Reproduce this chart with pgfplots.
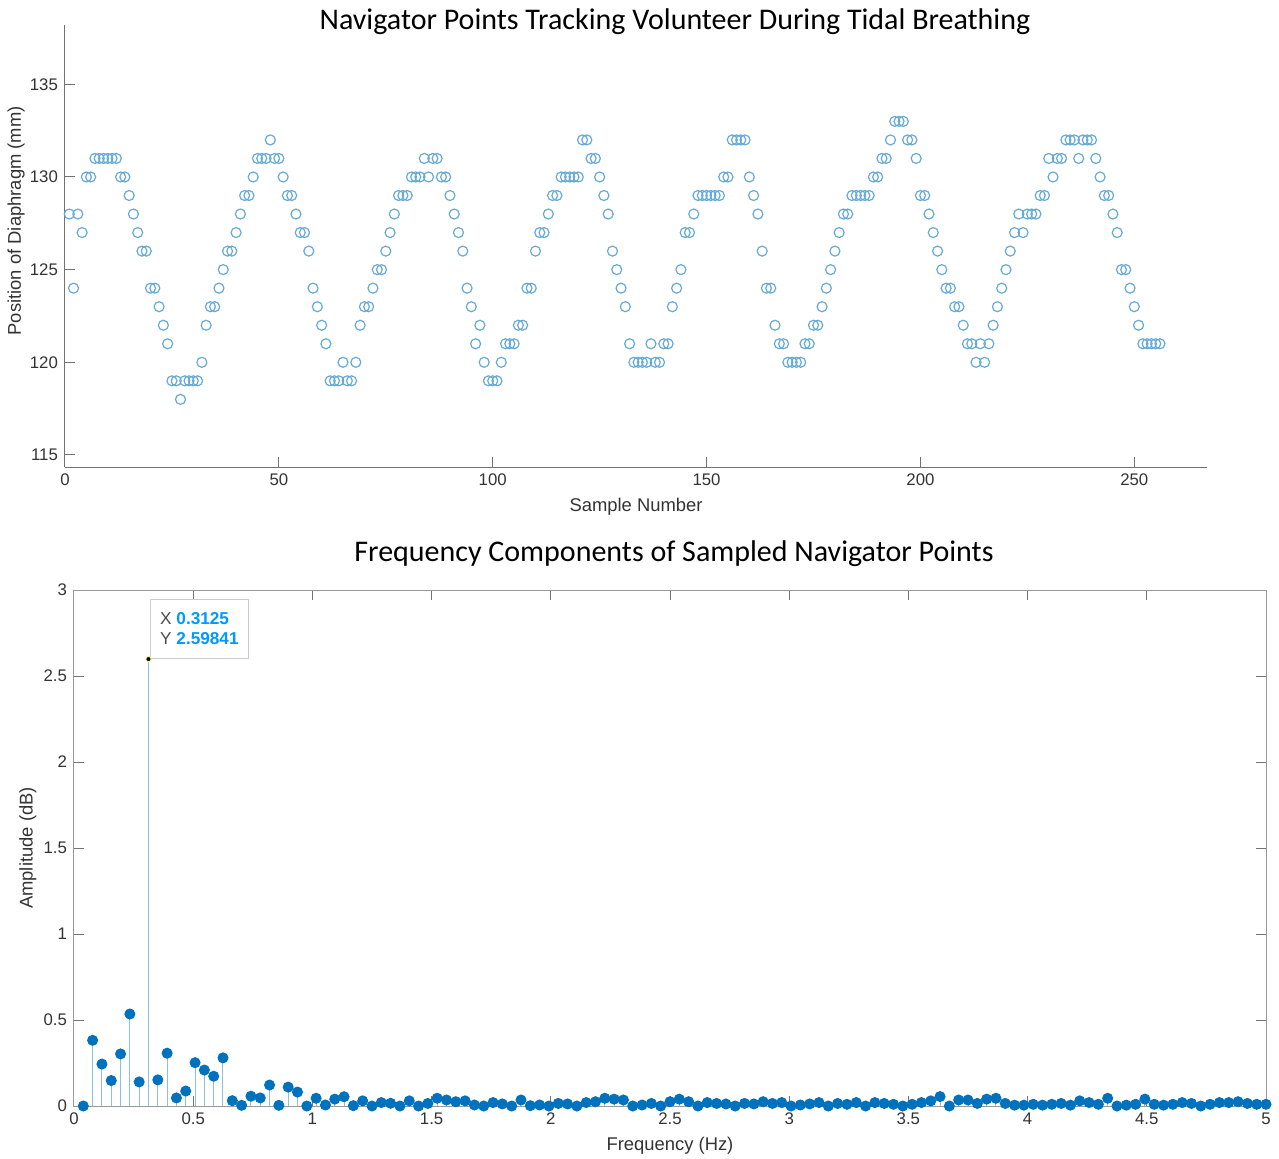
\documentclass[border=0pt]{standalone}
\usepackage{fontspec}
\setmainfont{Liberation Sans}
\newfontfamily\titlefont{Carlito}
\usepackage{pgfplots}
\usepackage{pgfplotstable}
\pgfplotsset{compat=1.18}
\definecolor{mblue}{RGB}{0,114,189}
\definecolor{tipblue}{RGB}{0,153,255}

\pgfplotstableread{
n y
1 128
2 124
3 128
4 127
5 130
6 130
7 131
8 131
9 131
10 131
11 131
12 131
13 130
14 130
15 129
16 128
17 127
18 126
19 126
20 124
21 124
22 123
23 122
24 121
25 119
26 119
27 118
28 119
29 119
30 119
31 119
32 120
33 122
34 123
35 123
36 124
37 125
38 126
39 126
40 127
41 128
42 129
43 129
44 130
45 131
46 131
47 131
48 132
49 131
50 131
51 130
52 129
53 129
54 128
55 127
56 127
57 126
58 124
59 123
60 122
61 121
62 119
63 119
64 119
65 120
66 119
67 119
68 120
69 122
70 123
71 123
72 124
73 125
74 125
75 126
76 127
77 128
78 129
79 129
80 129
81 130
82 130
83 130
84 131
85 130
86 131
87 131
88 130
89 130
90 129
91 128
92 127
93 126
94 124
95 123
96 121
97 122
98 120
99 119
100 119
101 119
102 120
103 121
104 121
105 121
106 122
107 122
108 124
109 124
110 126
111 127
112 127
113 128
114 129
115 129
116 130
117 130
118 130
119 130
120 130
121 132
122 132
123 131
124 131
125 130
126 129
127 128
128 126
129 125
130 124
131 123
132 121
133 120
134 120
135 120
136 120
137 121
138 120
139 120
140 121
141 121
142 123
143 124
144 125
145 127
146 127
147 128
148 129
149 129
150 129
151 129
152 129
153 129
154 130
155 130
156 132
157 132
158 132
159 132
160 130
161 129
162 128
163 126
164 124
165 124
166 122
167 121
168 121
169 120
170 120
171 120
172 120
173 121
174 121
175 122
176 122
177 123
178 124
179 125
180 126
181 127
182 128
183 128
184 129
185 129
186 129
187 129
188 129
189 130
190 130
191 131
192 131
193 132
194 133
195 133
196 133
197 132
198 132
199 131
200 129
201 129
202 128
203 127
204 126
205 125
206 124
207 124
208 123
209 123
210 122
211 121
212 121
213 120
214 121
215 120
216 121
217 122
218 123
219 124
220 125
221 126
222 127
223 128
224 127
225 128
226 128
227 128
228 129
229 129
230 131
231 130
232 131
233 131
234 132
235 132
236 132
237 131
238 132
239 132
240 132
241 131
242 130
243 129
244 129
245 128
246 127
247 125
248 125
249 124
250 123
251 122
252 121
253 121
254 121
255 121
256 121
}\navdata

\pgfplotstableread{
k a
1 0
2 0.382
3 0.244
4 0.148
5 0.303
6 0.535
7 0.140
9 0.152
10 0.307
11 0.047
12 0.087
13 0.252
14 0.209
15 0.173
16 0.280
17 0.031
18 0.004
19 0.057
20 0.047
21 0.122
22 0.004
23 0.110
24 0.081
25 0.0
26 0.045
27 0.006
28 0.040
29 0.054
30 0.002
31 0.030
32 0.0
33 0.020
34 0.016
35 0.0
36 0.030
37 0.0
38 0.015
39 0.045
40 0.035
41 0.025
42 0.030
43 0.006
44 0.0
45 0.020
46 0.012
47 0.0
48 0.035
49 0.002
50 0.006
51 0.0
52 0.015
53 0.012
54 0.0
55 0.020
56 0.025
57 0.045
58 0.040
59 0.035
60 0.0
61 0.006
62 0.015
63 0.0
64 0.025
65 0.040
66 0.025
67 0.0
68 0.020
69 0.015
70 0.012
71 0.0
72 0.015
73 0.012
74 0.025
75 0.015
76 0.020
77 0.0
78 0.006
79 0.012
80 0.020
81 0.0
82 0.015
83 0.010
84 0.020
85 0.0
86 0.020
87 0.015
88 0.010
89 0.0
90 0.010
91 0.020
92 0.030
93 0.055
94 0.0
95 0.035
96 0.035
97 0.015
98 0.040
99 0.045
100 0.015
101 0.005
102 0.005
103 0.010
104 0.005
105 0.010
106 0.015
107 0.005
108 0.030
109 0.020
110 0.010
111 0.045
112 0.0
113 0.005
114 0.010
115 0.040
116 0.010
117 0.005
118 0.010
119 0.020
120 0.015
121 0.0
122 0.010
123 0.020
124 0.020
125 0.025
126 0.015
127 0.010
128 0.010
}\fftdata

\pgfplotsset{
  myaxis/.style={
    scale only axis,
    anchor=south west,
    tick align=inside,
    major tick length=5pt,
    axis line style={black!55, line width=0.5pt},
    every tick/.style={black!55, line width=0.5pt},
    /pgf/number format/assume math mode=true,
    ticklabel style={font=\fontsize{8.4}{10}\selectfont, text=black!80},
    label style={font=\fontsize{9.2}{11}\selectfont, text=black!80},
  }
}

\begin{document}
\begin{tikzpicture}[x=1pt,y=1pt]
\useasboundingbox (0,0) rectangle (639.5,-579);

\begin{axis}[myaxis,
  at={(32.5pt,-233.5pt)},
  width=571pt, height=221pt,
  xmin=0, xmax=267, ymin=114.35, ymax=138.2,
  axis x line*=bottom, axis y line*=left,
  xtick={0,50,100,150,200,250},
  ytick={115,120,125,130,135},
  xlabel={Sample Number},
  ylabel={Position of Diaphragm (mm)},
  xlabel style={at={(axis description cs:0.5,0)}, anchor=center, yshift=-20pt},
  ylabel style={at={(axis description cs:-0.0429,0.557)}, anchor=center},
]
\addplot[only marks, mark=o, mark size=2.5pt, color=mblue!60, line width=0.6pt]
  table[x=n, y=y]{\navdata};
\end{axis}

\begin{axis}[myaxis,
  at={(37pt,-553pt)},
  width=596pt, height=258pt,
  xmin=0, xmax=5, ymin=0, ymax=3,
  axis line style={black!40, line width=0.5pt},
  xtick={0,0.5,1,1.5,2,2.5,3,3.5,4,4.5,5},
  ytick={0,0.5,1,1.5,2,2.5,3},
  xlabel={Frequency (Hz)},
  ylabel={Amplitude (dB)},
  xlabel style={at={(axis description cs:0.5,0)}, anchor=center, yshift=-20pt},
  ylabel style={at={(axis description cs:-0.0386,0.5)}, anchor=center},
  clip=false,
]
\addplot[ycomb, color=mblue!45, line width=0.5pt, mark=*, mark size=2.5pt,
  mark options={fill=mblue, draw=mblue}]
  table[x expr=\thisrow{k}*0.0390625, y=a]{\fftdata};
\addplot[ycomb, color=mblue!45, line width=0.5pt, mark=none]
  coordinates {(0.3125,2.59841)};
\addplot[only marks, mark=*, mark size=1.3pt, mark options={fill=black, draw=yellow!50!white, line width=0.4pt}]
  coordinates {(0.3125,2.59841)};
\node[draw=black!20, fill=white, anchor=north west, inner xsep=5pt, inner ysep=6.5pt,
  align=left, font=\fontsize{8.6}{10}\selectfont]
  at (axis cs:0.318,2.945)
  {{\color{black!70}X} {\color{tipblue}\bfseries 0.3125}\\[0pt]{\color{black!70}Y} {\color{tipblue}\bfseries 2.59841}};
\end{axis}

\node[font=\titlefont\fontsize{15}{17}\selectfont, text=black] at (337.5pt,-11pt)
  {Navigator Points Tracking Volunteer During Tidal Breathing};
\node[font=\titlefont\fontsize{15}{17}\selectfont, text=black] at (337pt,-277pt)
  {Frequency Components of Sampled Navigator Points};
\end{tikzpicture}
\end{document}
